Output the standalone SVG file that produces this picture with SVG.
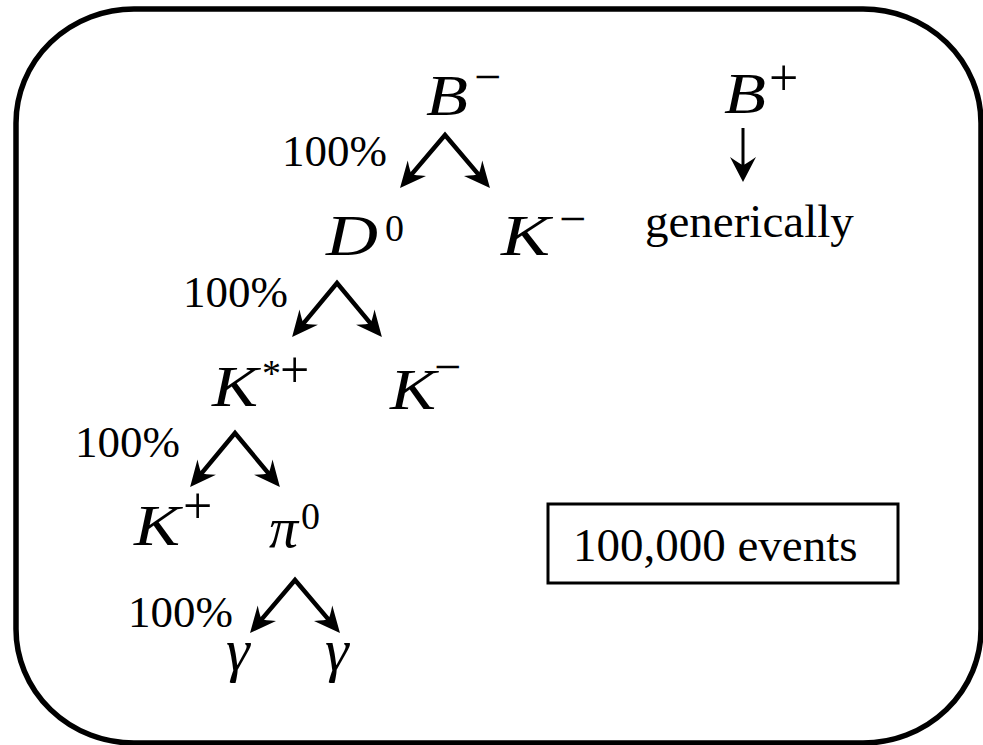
<svg xmlns="http://www.w3.org/2000/svg" width="983" height="745" viewBox="0 0 983 745">
<defs>
<style>
.t{font-family:"Liberation Serif","Times New Roman",serif;fill:#000}
.pc{font-size:45px}
.m{font-size:58px;font-style:italic}
.g{font-size:60px;font-style:italic}
.sup{font-size:38px}
.op{font-size:48px}
.pl{font-size:52px}
.lbl{font-size:47px}
.arr{fill:none;stroke:#000;stroke-width:4.5;stroke-linejoin:miter;stroke-miterlimit:10}
</style>
<marker id="ah" markerUnits="userSpaceOnUse" viewBox="-18 -14 30 28" refX="0" refY="0" markerWidth="30" markerHeight="28" orient="auto-start-reverse">
<path d="M10,0 L-16,-12 Q-9,-3 -8,0 Q-9,3 -16,12 Z" fill="#000"/>
</marker>
<marker id="ah2" markerUnits="userSpaceOnUse" viewBox="-16 -15 30 30" refX="0" refY="0" markerWidth="30" markerHeight="30" orient="auto">
<path d="M12,0 L-13,-13 Q-6,-3 -5,0 Q-6,3 -13,13 Z" fill="#000"/>
</marker>
</defs>
<rect id="frame" x="16" y="9" width="965" height="734" rx="118" ry="114" fill="#fff" stroke="#000" stroke-width="5.5"/>
<g id="connectors">
<path class="arr" d="M406.5,180.4 L445,135 L483.5,180.4" marker-start="url(#ah)" marker-end="url(#ah)"/>
<path class="arr" d="M298.5,329.4 L337,283 L375.5,329.4" marker-start="url(#ah)" marker-end="url(#ah)"/>
<path class="arr" d="M196.5,479.4 L235,433 L273.5,479.4" marker-start="url(#ah)" marker-end="url(#ah)"/>
<path class="arr" d="M256.5,625.4 L295,580 L333.5,625.4" marker-start="url(#ah)" marker-end="url(#ah)"/>
<path d="M743,128 L743,170" fill="none" stroke="#000" stroke-width="3" marker-end="url(#ah2)"/>
</g>
<g id="labels">
<text class="t pc" x="282" y="166">100%</text>
<text class="t pc" x="183" y="307">100%</text>
<text class="t pc" x="75" y="457">100%</text>
<text class="t pc" x="128" y="627">100%</text>
</g>
<g id="node-Bminus"><text class="t"><tspan class="m" x="426" y="115" textLength="42" lengthAdjust="spacingAndGlyphs">B</tspan><tspan class="op" x="474" y="93">−</tspan></text></g>
<g id="node-Bplus"><text class="t"><tspan class="m" x="724" y="113" textLength="42" lengthAdjust="spacingAndGlyphs">B</tspan><tspan class="pl" x="769" y="95">+</tspan></text></g>
<g id="node-generically"><text class="t lbl" x="645" y="237">generically</text></g>
<g id="node-D0"><text class="t"><tspan class="m" x="326" y="255" textLength="52" lengthAdjust="spacingAndGlyphs">D</tspan><tspan class="sup" x="385" y="241">0</tspan></text></g>
<g id="node-Kminus1"><text class="t"><tspan class="m" x="501" y="255" textLength="49" lengthAdjust="spacingAndGlyphs">K</tspan><tspan class="op" x="559" y="235">−</tspan></text></g>
<g id="node-Kstar"><text class="t"><tspan class="m" x="212" y="406" textLength="46" lengthAdjust="spacingAndGlyphs">K</tspan><tspan class="sup" x="262" y="386">*</tspan><tspan class="pl" x="280" y="387">+</tspan></text></g>
<g id="node-Kminus2"><text class="t"><tspan class="m" x="390" y="409" textLength="46" lengthAdjust="spacingAndGlyphs">K</tspan><tspan class="op" x="434" y="383">−</tspan></text></g>
<g id="node-Kplus"><text class="t"><tspan class="m" x="134" y="545" textLength="46" lengthAdjust="spacingAndGlyphs">K</tspan><tspan class="pl" x="183" y="523">+</tspan></text></g>
<g id="node-pi0"><text class="t"><tspan class="m" x="269" y="547">π</tspan><tspan class="sup" x="301" y="529">0</tspan></text></g>
<g id="node-gamma1"><text class="t g" x="226" y="670">γ</text></g>
<g id="node-gamma2"><text class="t g" x="325" y="670">γ</text></g>
<g id="node-events">
<rect x="548" y="504" width="350" height="79" fill="#fff" stroke="#000" stroke-width="3"/>
<text class="t lbl" x="573" y="561">100,000 events</text>
</g>
</svg>
